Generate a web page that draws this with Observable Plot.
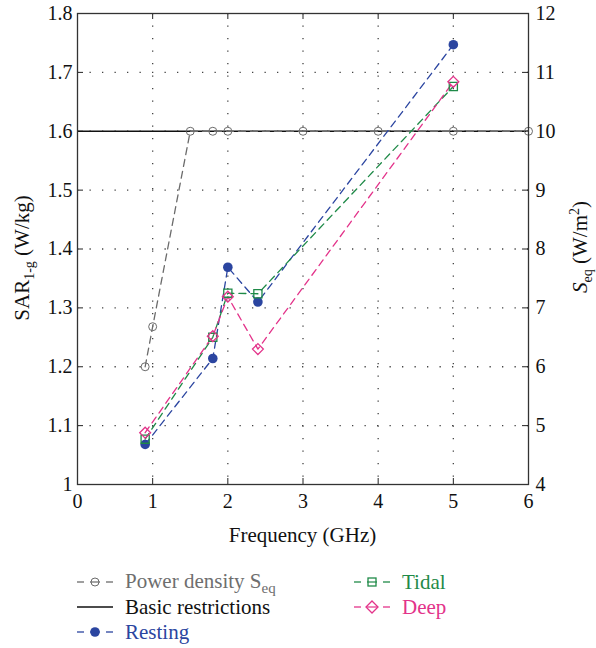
<!DOCTYPE html>
<html><head><meta charset="utf-8">
<script src="https://cdn.jsdelivr.net/npm/d3@7"></script>
<script src="https://cdn.jsdelivr.net/npm/@observablehq/plot@0.6"></script>
</head><body style="margin:0;background:#fff;font-family:'Liberation Serif'">
<div id="wrap" style="position:relative;width:596px;height:648px;font-family:'Liberation Serif'"><div id="chart"></div><div id="legend"></div></div>
<script>
// ---- data ----
const freqDensity = [0.9, 1.0, 1.5, 1.8, 2.0, 3, 4, 5, 6];
const densityS    = [6.0, 6.68, 10, 10, 10, 10, 10, 10, 10];   // W/m^2 (right axis)
const freqSAR = [0.9, 1.8, 2.0, 2.4, 5.0];
const resting = [1.068, 1.214, 1.369, 1.310, 1.747];
const tidal   = [1.077, 1.250, 1.325, 1.324, 1.676];
const deep    = [1.088, 1.252, 1.319, 1.230, 1.684];
const basicRestriction = [1.6];
const xTicks = [0, 1, 2, 3, 4, 5, 6];
const yTicks = [1, 1.1, 1.2, 1.3, 1.4, 1.5, 1.6, 1.7, 1.8];
const sTicks = [4, 5, 6, 7, 8, 9, 10, 11, 12];

const colors = {density: "#6b6b6b", basic: "#111", resting: "#2b45a0", tidal: "#1f8a48", deep: "#e3338a"};
const FONT = "Liberation Serif";

// right-axis (S) to left-axis (SAR) mapping: 4..12 <-> 1..1.8
const sToSar = s => 1 + (s - 4) / 10;

const densityData = freqDensity.map((f, i) => ({f, y: sToSar(densityS[i])}));
const mk = arr => freqSAR.map((f, i) => ({f, y: arr[i]}));
const restingData = mk(resting), tidalData = mk(tidal), deepData = mk(deep);

const W = 596, H = 555, mL = 77, mR = 68, mT = 13, mB = 71;
const innerW = W - mL - mR, innerH = H - mT - mB;
const dash = "7,5";
const grid = {stroke: "#444", strokeOpacity: 1, strokeWidth: 1.3, strokeDasharray: "1.3,11.2"};

const chart = Plot.plot({
  width: W, height: H,
  marginLeft: mL, marginRight: mR, marginTop: mT, marginBottom: mB,
  style: {fontFamily: FONT, fontSize: "20px", color: "#111", background: "#fff"},
  x: {domain: [0, 6]},
  y: {domain: [1, 1.8]},
  marks: [
    Plot.gridX(xTicks.slice(1, -1), grid),
    Plot.gridY(yTicks.slice(1, -1), grid),
    // inward ticks
    Plot.tickY(yTicks, {y: d => d, insetRight: innerW - 6, stroke: "#222"}),
    Plot.tickY(yTicks, {y: d => d, insetLeft: innerW - 6, stroke: "#222"}),
    Plot.tickX(xTicks, {x: d => d, insetTop: innerH - 6, stroke: "#222"}),
    Plot.tickX(xTicks, {x: d => d, insetBottom: innerH - 6, stroke: "#222"}),
    Plot.axisY(yTicks, {anchor: "left", tickSize: 0, tickPadding: 5, label: null, fontSize: 20, fontFamily: FONT, tickFormat: d => d3.format(".1~f")(d)}),
    Plot.axisY(yTicks, {anchor: "right", tickSize: 0, tickPadding: 7, label: null, fontSize: 20, fontFamily: FONT,
      tickFormat: d => String(sTicks[yTicks.findIndex(v => Math.abs(v - d) < 1e-9)])}),
    Plot.axisX(xTicks, {anchor: "bottom", tickSize: 0, tickPadding: 9, label: null, fontSize: 20, fontFamily: FONT}),
    // basic restrictions
    Plot.ruleY(basicRestriction, {stroke: colors.basic, strokeWidth: 1.4}),
    // power density
    Plot.line(densityData, {x: "f", y: "y", stroke: colors.density, strokeWidth: 1.3, strokeDasharray: dash}),
    Plot.dot(densityData, {x: "f", y: "y", r: 4, stroke: colors.density, strokeWidth: 1, fill: "none"}),
    // series
    Plot.line(restingData, {x: "f", y: "y", stroke: colors.resting, strokeWidth: 1.3, strokeDasharray: dash}),
    Plot.line(tidalData, {x: "f", y: "y", stroke: colors.tidal, strokeWidth: 1.3, strokeDasharray: dash}),
    Plot.line(deepData, {x: "f", y: "y", stroke: colors.deep, strokeWidth: 1.3, strokeDasharray: dash}),
    Plot.dot(restingData, {x: "f", y: "y", r: 4.8, fill: colors.resting, stroke: "none"}),
    Plot.dot(tidalData, {x: "f", y: "y", r: 4.6, symbol: "square", stroke: colors.tidal, strokeWidth: 1.3, fill: "none"}),
    Plot.dot(deepData, {x: "f", y: "y", r: 4.9, symbol: "diamond2", stroke: colors.deep, strokeWidth: 1.3, fill: "none"}),
    Plot.frame({stroke: "#333", strokeWidth: 1.3})
  ]
});
document.getElementById("chart").appendChild(chart);

// axis titles with sub/superscripts
const svg = d3.select(chart);
const lt = svg.append("text").attr("transform", `translate(29,258) rotate(-90)`)
  .attr("text-anchor", "middle").attr("fill", "#111").style("font-size", "21px");
lt.append("tspan").text("SAR");
lt.append("tspan").attr("dy", 5).style("font-size", "14px").text("1-g");
lt.append("tspan").attr("dy", -5).text(" (W/kg)");

const rt = svg.append("text").attr("transform", `translate(${W - 9},247) rotate(-90)`)
  .attr("text-anchor", "middle").attr("fill", "#111").style("font-size", "21px");
rt.append("tspan").style("font-style", "italic").text("S");
rt.append("tspan").attr("dy", 5).style("font-size", "14px").text("eq");
rt.append("tspan").attr("dy", -5).text(" (W/m");
rt.append("tspan").attr("dy", -8).style("font-size", "14px").text("2");
rt.append("tspan").attr("dy", 8).text(")");

svg.append("text").attr("x", mL + innerW / 2).attr("y", H - 13).attr("text-anchor", "middle")
  .attr("fill", "#111").style("font-size", "21px").text("Frequency (GHz)");

svg.selectAll("text").attr("font-family", FONT).style("font-family", FONT);
svg.selectAll("tspan").style("font-family", FONT);

// legend
const legendItems = [
  {label: "Power density S", sub: "eq", color: colors.density, text: "#6e6e6e", sym: "circle", left: 77, cy: 582},
  {label: "Basic restrictions", color: colors.basic, text: "#111", sym: "solid", left: 77, cy: 607},
  {label: "Resting", color: colors.resting, text: colors.resting, sym: "filled", left: 77, cy: 632},
  {label: "Tidal", color: colors.tidal, text: colors.tidal, sym: "square", left: 354, cy: 582},
  {label: "Deep", color: colors.deep, text: colors.deep, sym: "diamond", left: 354, cy: 607}
];
const leg = d3.select("#legend");
for (const it of legendItems) {
  const div = leg.append("div")
    .style("position", "absolute").style("display", "flex").style("align-items", "center")
    .style("white-space", "nowrap").style("font-family", FONT).style("font-size", "21px")
    .style("line-height", "24px").style("height", "24px")
    .style("left", it.left + "px").style("top", (it.cy - 12) + "px").style("color", it.text);
  const s = div.append("svg").attr("width", 36).attr("height", 20).style("margin-right", "12px").style("overflow", "visible");
  if (it.sym === "solid") {
    s.append("line").attr("x1", 0).attr("x2", 36).attr("y1", 10).attr("y2", 10).attr("stroke", it.color).attr("stroke-width", 1.4);
  } else {
    s.append("line").attr("x1", 0).attr("x2", 7).attr("y1", 10).attr("y2", 10).attr("stroke", it.color).attr("stroke-width", 1.3);
    s.append("line").attr("x1", 29).attr("x2", 36).attr("y1", 10).attr("y2", 10).attr("stroke", it.color).attr("stroke-width", 1.3);
    s.append("line").attr("x1", 13).attr("x2", 23).attr("y1", 10).attr("y2", 10).attr("stroke", it.color).attr("stroke-width", 1.2);
    if (it.sym === "circle") s.append("circle").attr("cx", 18).attr("cy", 10).attr("r", 4).attr("fill", "none").attr("stroke", it.color);
    if (it.sym === "filled") s.append("circle").attr("cx", 18).attr("cy", 10).attr("r", 4.8).attr("fill", it.color);
    if (it.sym === "square") s.append("rect").attr("x", 14).attr("y", 6).attr("width", 8).attr("height", 8).attr("fill", "none").attr("stroke", it.color).attr("stroke-width", 1.3);
    if (it.sym === "diamond") s.append("path").attr("d", "M18,4L24,10L18,16L12,10Z").attr("fill", "none").attr("stroke", it.color).attr("stroke-width", 1.3);
  }
  const t = div.append("span").style("font-family", FONT).text(it.label);
  if (it.sub) t.append("span").style("font-size", "15px").style("position", "relative").style("top", "5px").style("font-family", FONT).text(it.sub);
}
</script>
</body></html>
